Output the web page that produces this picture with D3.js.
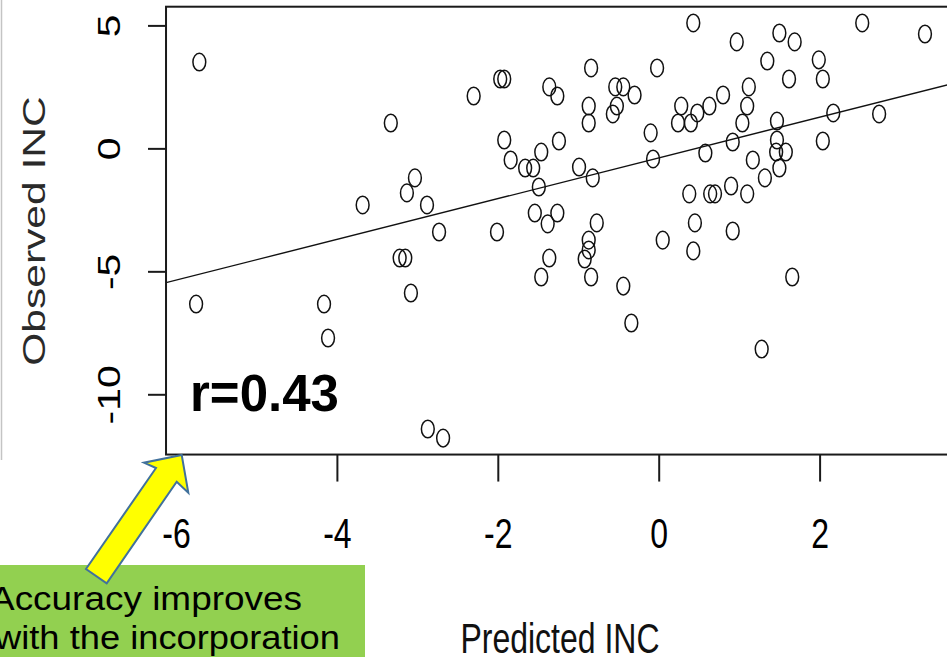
<!DOCTYPE html>
<html>
<head>
<meta charset="utf-8">
<script src="https://cdn.jsdelivr.net/npm/d3@7"></script>
<style>
  html, body { margin: 0; padding: 0; background: #fff; overflow: hidden; }
  svg { display: block; }
  text { font-family: "Liberation Sans", Arial, sans-serif; }
</style>
</head>
<body>
<svg id="chart" width="947" height="657"></svg>
<script>
// Predicted vs observed INC for each sample
const predicted = [
  -5.71, -5.75, -4.16, -4.11, -3.33, -3.68, -3.13, -3.03, -2.88, -2.73,
  -3.22, -3.15, -3.08, -2.87, -2.68, -2.30, -1.97, -1.92, -2.01, -1.92,
  -1.84, -1.66, -1.56, -1.46, -1.24, -1.36, -1.26, -0.84, -0.87, -0.87,
  -0.99, -0.82, -1.49, -1.54, -1.26, -1.38, -0.77, -0.87, -0.87, -0.92,
  -1.36, -1.46, -0.84, -0.44, -0.34, -0.54, -0.44, -0.52, -0.57, -0.30,
  -0.02, -0.10, -0.07, 0.05, 0.43, 0.28, 0.48, 0.63, 0.80, 0.24,
  0.40, 0.58, 0.38, 0.64, 0.70, 0.90, 1.10, 0.45, 0.43, 0.92,
  0.92, 0.97, 1.12, 1.10, 1.04, 1.17, 1.32, 1.35, 1.50, 1.69,
  1.62, 1.47, 1.47, 1.46, 1.58, 1.50, 1.99, 2.04, 2.04, 2.17,
  2.53, 2.74, 3.31, 1.66, 1.28
];
const observed = [
  3.51, -6.33, -6.33, -7.71, 1.03, -2.30, -1.81, -1.20, -2.30, -3.40,
  -4.46, -4.46, -5.88, -11.41, -11.78, 2.13, 2.82, 2.82, -3.40, 0.34,
  -0.47, -0.80, -0.80, -0.15, 0.30, 2.50, 2.13, 3.27, 1.72, 1.03,
  -0.76, -1.20, -1.57, -2.63, -2.63, -3.07, -3.03, -3.73, -4.13, -4.50,
  -4.46, -5.23, -5.23, -5.60, -7.10, 2.50, 2.50, 1.72, 1.40, 2.17,
  3.27, 0.63, -0.43, -3.73, 5.10, 1.72, 1.44, 1.72, 2.17, 1.03,
  1.03, -0.19, -1.85, -1.85, -1.85, -1.53, -1.85, -3.03, -4.17, 0.26,
  -3.36, 4.33, 2.50, 1.72, 1.03, -0.47, -1.20, 3.55, 4.69, 4.33,
  2.82, 1.11, 0.34, -0.15, -0.15, -0.80, 3.60, 2.82, 0.30, 1.44,
  5.10, 1.40, 4.65, -5.23, -8.16
];

// Axis ticks and labels
const xTicks = [-6, -4, -2, 0, 2];
const yTicks = [5, 0, -5, -10];
const xTitle = "Predicted INC";
const yTitle = "Observed INC";

// Least-squares fit line coefficients and correlation text
const fitIntercept = -0.39;
const fitSlope = 0.828;
const corrLabel = "r=0.43";

// Callout text
const noteLines = ["Accuracy improves", "with the incorporation"];

// Plot region in data units (R-style 4% padding)
const xLimits = [-6.124, 3.92];
const yLimits = [-12.45, 5.76];

const svg = d3.select("#chart");

const x = d3.scaleLinear().domain([-6, 2]).range([176, 819.6]);
const y = d3.scaleLinear().domain([-10, 5]).range([394.3, 25.4]);

// thin gray frame edge at the far left
svg.append("line")
  .attr("x1", 1.5).attr("x2", 1.5).attr("y1", 0).attr("y2", 460)
  .attr("stroke", "#c4c4c4").attr("stroke-width", 1.5);

// fitted regression line, clipped to the plot box
svg.append("clipPath").attr("id", "plotClip")
  .append("rect")
  .attr("x", x(xLimits[0])).attr("y", y(yLimits[1]))
  .attr("width", x(xLimits[1]) - x(xLimits[0]))
  .attr("height", y(yLimits[0]) - y(yLimits[1]));

const fitLine = d3.line().x(d => x(d)).y(d => y(fitIntercept + fitSlope * d));
svg.append("path")
  .attr("clip-path", "url(#plotClip)")
  .attr("d", fitLine(xLimits))
  .attr("fill", "none").attr("stroke", "#111").attr("stroke-width", 1.4);

// open circle markers
svg.append("g")
  .selectAll("ellipse")
  .data(predicted.map((p, i) => [p, observed[i]]))
  .join("ellipse")
  .attr("cx", d => x(d[0]))
  .attr("cy", d => y(d[1]))
  .attr("rx", 6.4).attr("ry", 8.8)
  .attr("fill", "none").attr("stroke", "#111").attr("stroke-width", 1.5);

// plot box
svg.append("rect")
  .attr("x", x(xLimits[0])).attr("y", y(yLimits[1]))
  .attr("width", x(xLimits[1]) - x(xLimits[0]))
  .attr("height", y(yLimits[0]) - y(yLimits[1]))
  .attr("fill", "none").attr("stroke", "#1a1a1a").attr("stroke-width", 2);

// bottom axis
const xAxis = d3.axisBottom(x).tickValues(xTicks).tickSize(27).tickPadding(0).tickFormat(() => "");
const gx = svg.append("g").attr("transform", `translate(0,${y(yLimits[0])})`).call(xAxis);
gx.select(".domain").remove();
gx.selectAll(".tick line").attr("stroke", "#1a1a1a").attr("stroke-width", 2);
gx.selectAll(".tick").append("text")
  .attr("transform", "translate(0,93) scale(1,1.35)")
  .attr("text-anchor", "middle")
  .attr("fill", "#000").attr("font-size", 32)
  .style("font-family", '"Liberation Sans", Arial, sans-serif')
  .text(d => String(d).replace("\u2212", "-"));

// left axis
const yAxis = d3.axisLeft(y).tickValues(yTicks).tickSize(18).tickFormat(() => "");
const gy = svg.append("g").attr("transform", `translate(${x(xLimits[0])},0)`).call(yAxis);
gy.select(".domain").remove();
gy.selectAll(".tick line").attr("stroke", "#1a1a1a").attr("stroke-width", 2);
gy.selectAll(".tick").append("text")
  .attr("transform", "translate(-46,0) rotate(-90) scale(1.28,1)")
  .attr("text-anchor", "middle")
  .attr("fill", "#000").attr("font-size", 32)
  .style("font-family", '"Liberation Sans", Arial, sans-serif')
  .text(d => String(d).replace("\u2212", "-"));

// axis titles
svg.append("text")
  .attr("transform", "translate(560,653) scale(1,1.35)")
  .attr("text-anchor", "middle").attr("font-size", 32).attr("fill", "#111")
  .text(xTitle);

svg.append("text")
  .attr("transform", "translate(45,231) rotate(-90) scale(1.33,1)")
  .attr("text-anchor", "middle").attr("font-size", 32).attr("fill", "#2a2a2a")
  .text(yTitle);

// correlation annotation
svg.append("text")
  .attr("x", 190).attr("y", 411)
  .attr("font-size", 51).attr("font-weight", "bold").attr("fill", "#000")
  .text(corrLabel);

// green callout box
svg.append("rect")
  .attr("x", -2).attr("y", 565).attr("width", 367).attr("height", 95)
  .attr("fill", "#92D050");

const noteLayout = [
  { x: -10, y: 610, len: 312 },
  { x: -5, y: 649, len: 345 }
];
svg.selectAll("text.note")
  .data(noteLines)
  .join("text")
  .attr("class", "note")
  .attr("x", (d, i) => noteLayout[i].x)
  .attr("y", (d, i) => noteLayout[i].y)
  .attr("textLength", (d, i) => noteLayout[i].len)
  .attr("lengthAdjust", "spacingAndGlyphs")
  .attr("font-size", 33).attr("fill", "#000")
  .text(d => d);

// yellow block arrow pointing at the lower-left corner of the plot
const arrowPts = [
  [181.7, 455], [188.3, 492.7], [176.7, 481.7], [106.7, 583.3],
  [86, 569], [156, 468], [144, 462.7]
];
svg.append("polygon")
  .attr("points", arrowPts.map(p => p.join(",")).join(" "))
  .attr("fill", "#FFFF00").attr("stroke", "#41719C").attr("stroke-width", 2)
  .attr("stroke-linejoin", "miter");
</script>
</body>
</html>
